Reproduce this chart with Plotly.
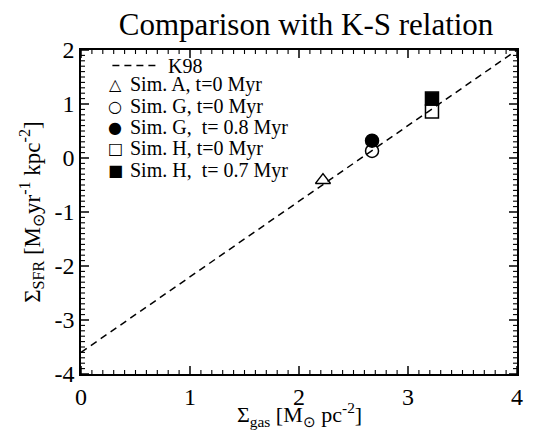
import plotly.graph_objects as go

# K98 relation endpoints
k98_x = [0.0, 4.0]
k98_y = [-3.6, 2.0]

# Simulation points
sim_names = ["Sim. A, t=0 Myr", "Sim. G, t=0 Myr", "Sim. G,  t= 0.8 Myr",
             "Sim. H, t=0 Myr", "Sim. H,  t= 0.7 Myr"]
sim_x = [2.22, 2.67, 2.67, 3.22, 3.22]
sim_y = [-0.41, 0.13, 0.32, 0.86, 1.10]
sim_symbols = ["triangle-up-open", "circle-open", "circle", "square-open", "square"]
legend_glyphs = ["△", "○", "●", "□", "■"]

x_range = [0, 4]
y_range = [-4, 2]
x_major = [0, 1, 2, 3, 4]
y_major = [-4, -3, -2, -1, 0, 1, 2]
x_minor = [i / 10 for i in range(0, 41) if i % 10]
y_minor = [i / 10 for i in range(-40, 21) if i % 10]

FONT = "Liberation Serif"
W, H = 547, 430
ML, MR, MT, MB = 73, 38, 42, 64
PW, PH = W - ML - MR, H - MT - MB

fig = go.Figure()
fig.add_trace(go.Scatter(x=k98_x, y=k98_y, mode="lines",
                         line=dict(color="black", width=1.5, dash="7px,5px"),
                         showlegend=False))
for n, x, y, s in zip(sim_names, sim_x, sim_y, sim_symbols):
    fig.add_trace(go.Scatter(x=[x], y=[y], mode="markers", name=n,
                             marker=dict(symbol=s, size=13, color="black",
                                         line=dict(color="black", width=1.5)),
                             showlegend=False))

# tick marks (inside, on all four sides)
def xtick(v, length, width):
    h = length / PH
    for y0, y1 in ((0, h), (1 - h, 1)):
        fig.add_shape(type="line", xref="x", yref="paper", x0=v, x1=v, y0=y0, y1=y1,
                      line=dict(color="black", width=width))

def ytick(v, length, width):
    w = length / PW
    for x0, x1 in ((0, w), (1 - w, 1)):
        fig.add_shape(type="line", xref="paper", yref="y", x0=x0, x1=x1, y0=v, y1=v,
                      line=dict(color="black", width=width))

for v in x_major:
    xtick(v, 8, 1.5)
for v in x_minor:
    xtick(v, 4, 1.1)
for v in y_major:
    ytick(v, 8, 1.5)
for v in y_minor:
    ytick(v, 4, 1.1)

# manual legend
fig.add_shape(type="line", xref="paper", yref="paper", x0=0.072, x1=0.178,
              y0=0.952, y1=0.952, line=dict(color="black", width=1.5, dash="7px,5px"))
fig.add_annotation(x=0.195, y=0.952, xref="paper", yref="paper", text="K98",
                   showarrow=False, xanchor="left", yanchor="middle",
                   font=dict(family=FONT, size=20, color="black"))
for i, (n, g) in enumerate(zip(sim_names, legend_glyphs)):
    yy = 0.893 - i * 0.066
    fig.add_annotation(x=0.078, y=yy, xref="paper", yref="paper", text=g,
                       showarrow=False, xanchor="center", yanchor="middle",
                       font=dict(family="DejaVu Sans", size=16, color="black"))
    fig.add_annotation(x=0.108, y=yy, xref="paper", yref="paper", text=n,
                       showarrow=False, xanchor="left", yanchor="middle",
                       font=dict(family=FONT, size=20, color="black"))

# axis titles as annotations
fig.add_annotation(x=0.5, y=-0.125, xref="paper", yref="paper",
                   text="Σ<sub>gas</sub> [M<sub>⊙</sub> pc<sup>-2</sup>]",
                   showarrow=False, xanchor="center", yanchor="middle",
                   font=dict(family=FONT, size=22, color="black"))
fig.add_annotation(x=-0.115, y=0.5, xref="paper", yref="paper", textangle=-90,
                   text="Σ<sub>SFR</sub> [M<sub>⊙</sub>yr<sup>-1</sup> kpc<sup>-2</sup>]",
                   showarrow=False, xanchor="center", yanchor="middle",
                   font=dict(family=FONT, size=23, color="black"))

axis_common = dict(showline=True, linecolor="black", linewidth=1.5, mirror=True,
                   ticks="", tickmode="array",
                   showgrid=False, zeroline=False,
                   tickfont=dict(family=FONT, size=24, color="black"))

fig.update_layout(
    template="none",
    width=W, height=H,
    margin=dict(l=ML, r=MR, t=MT, b=MB),
    paper_bgcolor="white", plot_bgcolor="white",
    xaxis=dict(range=x_range, tickvals=x_major, ticktext=[str(v) for v in x_major],
               **axis_common),
    yaxis=dict(range=y_range, tickvals=y_major, ticktext=[str(v) for v in y_major],
               **axis_common),
    title=dict(text="Comparison with K-S relation", x=0.545, xanchor="center",
               y=0.963, yanchor="middle",
               font=dict(family=FONT, size=31, color="black")),
    showlegend=False,
)

fig.write_html("out.html")
